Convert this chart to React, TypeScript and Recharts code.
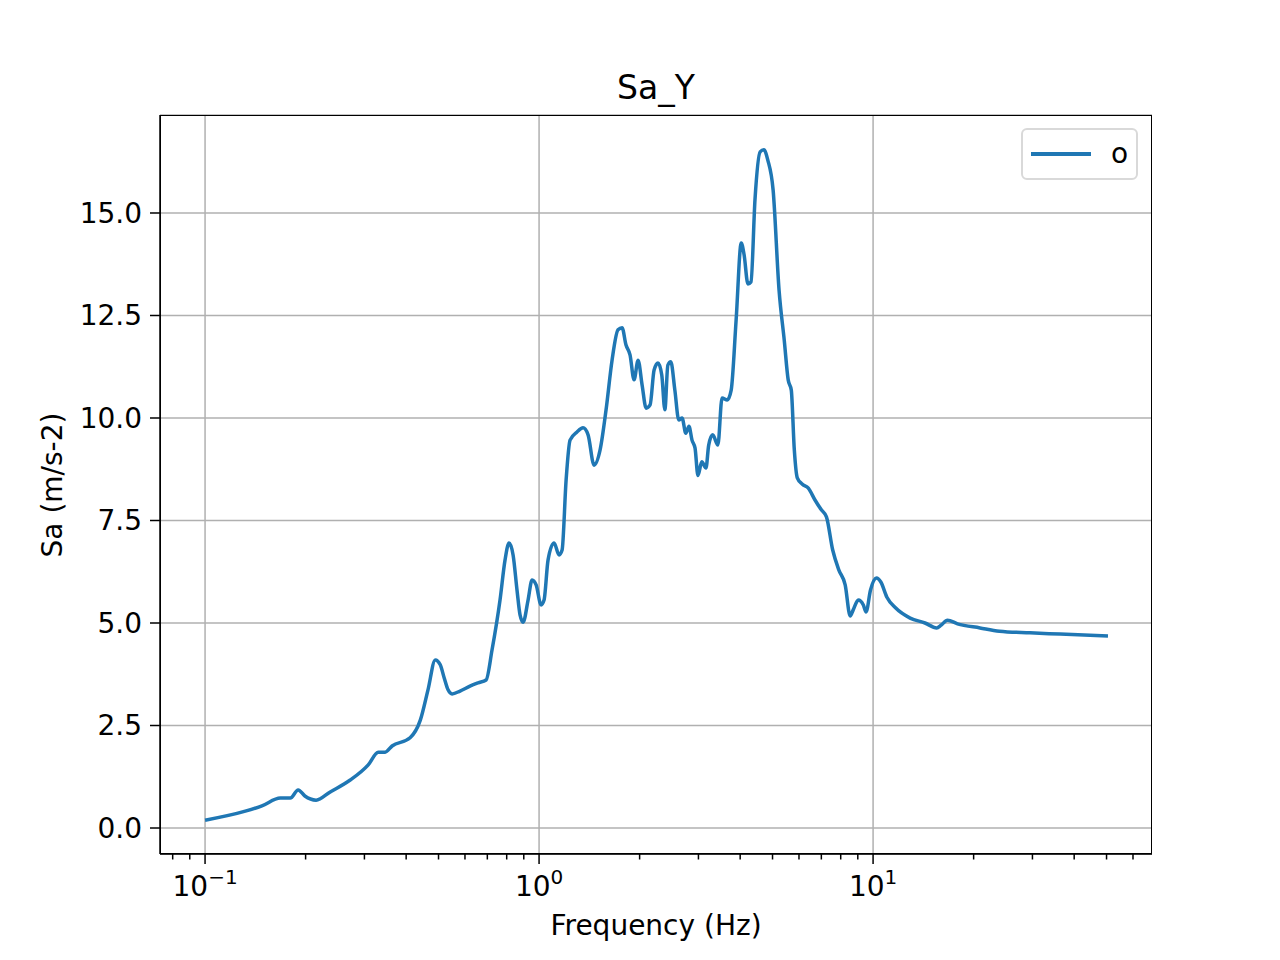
import React from "react";
import {
  ComposedChart,
  Line,
  XAxis,
  YAxis,
  CartesianGrid,
  ReferenceLine,
} from "recharts";

const freqs = [
  0.1, 0.132, 0.148, 0.168, 0.18, 0.19, 0.199, 0.215, 0.237, 0.272, 0.308, 0.33, 0.346, 0.363, 0.411,
  0.441, 0.465, 0.489, 0.506, 0.52, 0.534, 0.549, 0.58, 0.621, 0.657, 0.694, 0.723, 0.764, 0.791,
  0.813, 0.836, 0.859, 0.877, 0.896, 0.927, 0.953, 0.98, 1.014, 1.035, 1.064, 1.109, 1.148, 1.172,
  1.205, 1.238, 1.299, 1.354, 1.402, 1.461, 1.523, 1.587, 1.654, 1.723, 1.772, 1.821, 1.872, 1.925,
  1.979, 2.035, 2.092, 2.15, 2.21, 2.27, 2.33, 2.38, 2.43, 2.48, 2.55, 2.62, 2.68, 2.75, 2.81, 2.87,
  2.93, 2.99, 3.07, 3.16, 3.22, 3.31, 3.43, 3.53, 3.66, 3.76, 3.89, 4.03, 4.11, 4.22, 4.31, 4.43,
  4.59, 4.71, 4.84, 5.02, 5.23, 5.42, 5.57, 5.69, 5.81, 5.93, 6.13, 6.4, 6.7, 7.0, 7.25, 7.57, 7.9,
  8.25, 8.54, 8.72, 9.03, 9.35, 9.53, 9.82, 10.24, 10.55, 11.0, 11.67, 12.91, 14.3, 15.5, 16.0, 16.7,
  17.9, 20.9, 23.9, 29.5, 36.3, 50.5,
];

const saY = [
  0.19, 0.41, 0.54, 0.73, 0.73, 0.93, 0.78, 0.68, 0.88, 1.17, 1.54, 1.85, 1.85, 2.0, 2.2,
  2.63, 3.37, 4.1, 3.98, 3.66, 3.37, 3.27, 3.34, 3.46, 3.54, 3.61, 4.34, 5.56, 6.54,
  6.95, 6.66, 5.8, 5.2, 5.02, 5.56, 6.05, 5.93, 5.44, 5.56, 6.54, 6.95, 6.66, 6.78,
  8.49, 9.46, 9.66, 9.76, 9.59, 8.85, 9.22, 10.2, 11.41, 12.15, 12.2, 11.78, 11.54, 10.93,
  11.41, 10.8, 10.24, 10.32, 11.17, 11.34, 11.05, 10.2, 11.29, 11.37, 10.68, 9.95, 10.0, 9.63, 9.8, 9.46,
  9.27, 8.6, 8.93, 8.78, 9.34, 9.59, 9.34, 10.49, 10.44, 10.68, 12.39, 14.27, 13.98, 13.27, 13.32, 15.32,
  16.49, 16.54, 16.29, 15.56, 13.12, 11.9, 10.93, 10.68, 9.22, 8.54, 8.39, 8.29, 8.0, 7.76, 7.59, 6.78, 6.29,
  5.93, 5.17, 5.32, 5.56, 5.44, 5.27, 5.8, 6.1, 6.0, 5.63, 5.37, 5.12, 5.0, 4.88, 4.95, 5.07,
  4.98, 4.88, 4.8, 4.76, 4.73, 4.68,
];

const majorTicks = [0.1, 1, 10];
const majorExp = ["\u22121", "0", "1"];
const minorTicks = [0.08, 0.09, 0.2, 0.3, 0.4, 0.5, 0.6, 0.7, 0.8, 0.9, 2, 3, 4, 5, 6, 7, 8, 9, 20, 30, 40, 50, 60];
const yTicks = [0, 2.5, 5, 7.5, 10, 12.5, 15];

const data = freqs.map((f, i) => ({ f, sa: saY[i] }));

const font = "DejaVu Sans, sans-serif";

const XTick = (props: any) => {
  const { x, y, payload } = props;
  const idx = majorTicks.indexOf(payload.value);
  const major = idx >= 0;
  return (
    <g>
      <line x1={x} x2={x} y1={y} y2={y + (major ? 10 : 5.5)} stroke="#000" strokeWidth={1.5} />
      {major && (
        <text x={x} y={y + 42} textAnchor="middle" fontSize={28} fontFamily={font} fill="#000">
          10
          <tspan dy={-12} fontSize={20}>
            {majorExp[idx]}
          </tspan>
        </text>
      )}
    </g>
  );
};

export default function App() {
  return (
    <div style={{ position: "absolute", left: 0, top: 0, width: 1280, height: 960, background: "#fff", fontFamily: font }}>
      <div style={{ position: "absolute", top: 68, width: 1312, textAlign: "center", fontSize: 33, lineHeight: "40px" }}>
        Sa_Y
      </div>
      <ComposedChart
        width={1280}
        height={960}
        data={data}
        margin={{ top: 115, right: 128, left: 0, bottom: 0 }}
      >
        <CartesianGrid vertical={false} stroke="#b0b0b0" strokeWidth={1.5} />
        {majorTicks.map((t) => (
          <ReferenceLine key={t} x={t} stroke="#b0b0b0" strokeWidth={1.5} />
        ))}
        <XAxis
          dataKey="f"
          type="number"
          scale="log"
          domain={[0.0733, 68.4]}
          ticks={[...majorTicks, ...minorTicks]}
          allowDataOverflow
          interval={0}
          height={106}
          tickSize={0}
          tickMargin={0}
          tickLine={false}
          tick={<XTick />}
          axisLine={{ stroke: "#000", strokeWidth: 1.5 }}
        />
        <YAxis
          type="number"
          domain={[-0.634, 17.39]}
          ticks={yTicks}
          allowDataOverflow
          width={160}
          tickSize={10}
          tickMargin={8}
          tickFormatter={(v: number) => v.toFixed(1)}
          tick={{ fontSize: 28, fontFamily: font, fill: "#000" }}
          tickLine={{ stroke: "#000", strokeWidth: 1.5 }}
          axisLine={{ stroke: "#000", strokeWidth: 1.5 }}
        />
        <Line
          type="monotone"
          dataKey="sa"
          stroke="#1f77b4"
          strokeWidth={3.5}
          dot={false}
          isAnimationActive={false}
        />
      </ComposedChart>
      <div style={{ position: "absolute", left: 160, top: 115, width: 992, height: 739, border: "1.5px solid #000", boxSizing: "border-box", pointerEvents: "none" }} />
      <div style={{ position: "absolute", left: 1021, top: 128, width: 117, height: 52, border: "2px solid #d9d9d9", borderRadius: 6, boxSizing: "border-box", background: "rgba(255,255,255,0.8)" }}>
        <div style={{ position: "absolute", left: 8, top: 22, width: 60, height: 3.5, background: "#1f77b4" }} />
        <div style={{ position: "absolute", left: 88, top: 4, fontSize: 28, lineHeight: "40px" }}>o</div>
      </div>
      <div style={{ position: "absolute", top: 908, width: 1312, textAlign: "center", fontSize: 28, lineHeight: "36px" }}>
        Frequency (Hz)
      </div>
      <div style={{ position: "absolute", left: 52, top: 485, transform: "translate(-50%, -50%) rotate(-90deg)", fontSize: 28, whiteSpace: "nowrap" }}>
        Sa (m/s-2)
      </div>
    </div>
  );
}
